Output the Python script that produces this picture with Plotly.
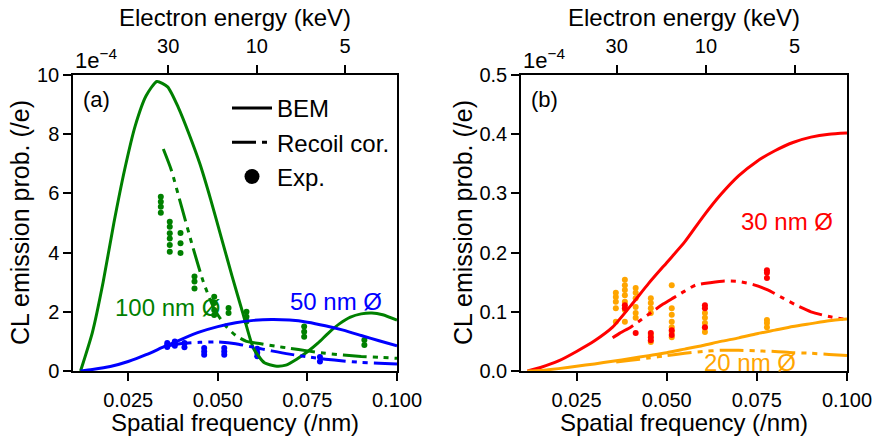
import numpy as np
import plotly.graph_objects as go

# ---------------- data ----------------
# CL emission probability per electron, in units of 1e-4

# (a) 100 nm and 50 nm particles
q_bem100 = [0.0117, 0.015, 0.018, 0.021, 0.024, 0.027, 0.030, 0.033, 0.036, 0.039,
            0.042, 0.045, 0.048, 0.051, 0.054, 0.057, 0.060, 0.063, 0.066, 0.069,
            0.072, 0.075, 0.078, 0.081, 0.084, 0.087, 0.090, 0.093, 0.096, 0.100]
p_bem100 = [0.0, 1.3, 3.0, 5.0, 6.8, 8.3, 9.3, 9.78, 9.6, 8.9,
            8.0, 7.0, 5.8, 4.5, 3.2, 1.95, 0.75, 0.28, 0.17, 0.2,
            0.4, 0.65, 0.95, 1.3, 1.6, 1.82, 1.93, 1.96, 1.9, 1.72]

q_rec100 = [0.0348, 0.037, 0.040, 0.043, 0.046, 0.049, 0.052, 0.055, 0.058, 0.062,
            0.066, 0.070, 0.075, 0.080, 0.085, 0.090, 0.095, 0.100]
p_rec100 = [7.5, 6.8, 5.5, 4.2, 3.0, 2.1, 1.55, 1.2, 1.0, 0.92,
            0.84, 0.77, 0.68, 0.6, 0.54, 0.49, 0.46, 0.43]

q_bem50 = [0.0117, 0.015, 0.020, 0.025, 0.030, 0.035, 0.040, 0.045, 0.050, 0.055,
           0.060, 0.065, 0.070, 0.075, 0.080, 0.085, 0.090, 0.095, 0.100]
p_bem50 = [0.0, 0.05, 0.15, 0.32, 0.55, 0.82, 1.08, 1.32, 1.5, 1.63,
           1.71, 1.74, 1.72, 1.65, 1.53, 1.38, 1.2, 1.02, 0.85]

q_rec50 = [0.036, 0.040, 0.045, 0.050, 0.055, 0.060, 0.065, 0.070, 0.075, 0.080,
           0.085, 0.090, 0.095, 0.100]
p_rec50 = [0.85, 0.93, 0.97, 0.98, 0.92, 0.8, 0.68, 0.57, 0.48, 0.4,
           0.34, 0.29, 0.26, 0.24]

q_exp100 = [0.0341] * 4 + [0.0366] * 6 + [0.0396] * 3 + [0.0435] * 3 + [0.049] * 4 \
    + [0.053] * 2 + [0.058] * 3 + [0.0741] * 3 + [0.0909] * 2
p_exp100 = [5.89, 5.72, 5.55, 5.35,
            5.04, 4.87, 4.65, 4.48, 4.26, 4.03,
            4.66, 4.32, 3.99,
            3.19, 3.02, 2.79,
            2.51, 2.3, 2.06, 1.89,
            2.13, 1.96,
            2.0, 1.83, 1.67,
            1.5, 1.33, 1.16,
            1.05, 0.88]

q_exp50 = [0.0359] * 3 + [0.038] * 3 + [0.0407] * 2 + [0.0462] * 3 + [0.0518] * 3 \
    + [0.061] * 3 + [0.0785] * 2
p_exp50 = [0.95, 0.88, 0.81,
           1.0, 0.92, 0.85,
           0.95, 0.8,
           0.78, 0.66, 0.55,
           0.78, 0.66, 0.55,
           0.75, 0.62, 0.5,
           0.47, 0.32]

# (b) 30 nm and 20 nm particles
q_bem30 = [0.0114, 0.015, 0.020, 0.025, 0.030, 0.035, 0.040, 0.045, 0.050, 0.055,
           0.060, 0.065, 0.070, 0.075, 0.080, 0.085, 0.090, 0.095, 0.100]
p_bem30 = [0.0, 0.006, 0.017, 0.033, 0.051, 0.074, 0.11, 0.148, 0.183, 0.218,
           0.26, 0.298, 0.33, 0.354, 0.372, 0.386, 0.395, 0.4, 0.402]

q_rec30 = [0.035, 0.037, 0.040, 0.043, 0.046, 0.049, 0.052, 0.055, 0.058, 0.062,
           0.066, 0.070, 0.074, 0.078, 0.082, 0.086, 0.090, 0.095, 0.100]
p_rec30 = [0.056, 0.064, 0.074, 0.087, 0.1, 0.113, 0.124, 0.135, 0.145, 0.149,
           0.152, 0.151, 0.146, 0.137, 0.124, 0.111, 0.1, 0.092, 0.087]

q_bem20 = [0.0114, 0.015, 0.020, 0.025, 0.030, 0.035, 0.040, 0.045, 0.050, 0.055,
           0.060, 0.065, 0.070, 0.075, 0.080, 0.085, 0.090, 0.095, 0.100]
p_bem20 = [0.0, 0.001, 0.004, 0.008, 0.012, 0.0165, 0.021, 0.026, 0.031, 0.037,
           0.043, 0.05, 0.056, 0.063, 0.069, 0.075, 0.08, 0.085, 0.088]

q_rec20 = [0.036, 0.040, 0.045, 0.050, 0.055, 0.060, 0.065, 0.070, 0.075, 0.080,
           0.085, 0.090, 0.095, 0.100]
p_rec20 = [0.015, 0.018, 0.022, 0.026, 0.03, 0.033, 0.035, 0.035, 0.034, 0.033,
           0.031, 0.03, 0.028, 0.026]

q_exp20 = [0.0359] * 5 + [0.0384] * 7 + [0.0414] * 6 + [0.0456] * 6 + [0.0514] * 7 \
    + [0.0606] * 5 + [0.0778] * 3
p_exp20 = [0.132, 0.125, 0.117, 0.106, 0.083,
           0.154, 0.145, 0.137, 0.128, 0.117, 0.103, 0.083,
           0.14, 0.132, 0.123, 0.108, 0.098, 0.09,
           0.123, 0.115, 0.106, 0.098, 0.061, 0.049,
           0.145, 0.106, 0.095, 0.083, 0.074, 0.066, 0.057,
           0.098, 0.09, 0.081, 0.073, 0.066,
           0.086, 0.081, 0.074]

q_exp30 = [0.0384] * 2 + [0.0414] + [0.0456] * 3 + [0.0514] * 2 + [0.0606] * 3 + [0.0778] * 3
p_exp30 = [0.111, 0.106,
           0.064,
           0.064, 0.057, 0.052,
           0.069, 0.061,
           0.111, 0.106, 0.074,
           0.17, 0.166, 0.157]

# electron energies marked on the top axis (keV)
energy_ticks = [30, 10, 5]
Q_AT_C = 0.01187  # spatial frequency (/nm) for an electron moving at c


def energy_to_q(e_kev):
    gamma = 1.0 + e_kev / 511.0
    beta = np.sqrt(1.0 - 1.0 / gamma ** 2)
    return Q_AT_C / beta


q_ticks_top = [float(energy_to_q(e)) for e in energy_ticks]

# ---------------- styling ----------------
FONT = "Liberation Sans, Arial, sans-serif"
GREEN, BLUE, RED, ORANGE = "#008000", "#0000ff", "#ff0000", "#ffa500"
RECOIL_DASH = "24px,6px,5px,6px,5px,6px"
LW = 3
XR = [0.0096, 0.1]

W, H = 877, 437


def px(x):
    return x / W


def py(y):
    return 1 - y / H


fig = go.Figure()


def dots(x, y, color, xa, ya):
    fig.add_trace(go.Scatter(x=x, y=y, mode="markers", xaxis=xa, yaxis=ya,
                             marker=dict(color=color, size=6), showlegend=False))


def curve(x, y, color, xa, ya, dash="solid"):
    fig.add_trace(go.Scatter(x=x, y=y, mode="lines", xaxis=xa, yaxis=ya,
                             line=dict(color=color, width=LW, dash=dash,
                                       shape="spline", smoothing=0.6),
                             showlegend=False))


# panel (a)
dots(q_exp100, p_exp100, GREEN, "x", "y")
dots(q_exp50, p_exp50, BLUE, "x", "y")
curve(q_bem100, p_bem100, GREEN, "x", "y")
curve(q_rec100, p_rec100, GREEN, "x", "y", RECOIL_DASH)
curve(q_bem50, p_bem50, BLUE, "x", "y")
curve(q_rec50, p_rec50, BLUE, "x", "y", RECOIL_DASH)

# panel (b)
dots(q_exp20, p_exp20, ORANGE, "x2", "y2")
dots(q_exp30, p_exp30, RED, "x2", "y2")
curve(q_bem30, p_bem30, RED, "x2", "y2")
curve(q_rec30, p_rec30, RED, "x2", "y2", RECOIL_DASH)
curve(q_bem20, p_bem20, ORANGE, "x2", "y2")
curve(q_rec20, p_rec20, ORANGE, "x2", "y2", RECOIL_DASH)

# empty traces so the top (energy) axes get drawn
for xa, ya in [("x3", "y"), ("x4", "y2")]:
    fig.add_trace(go.Scatter(x=q_ticks_top, y=[None] * len(q_ticks_top), mode="lines",
                             xaxis=xa, yaxis=ya, showlegend=False, hoverinfo="skip"))

# legend entries (style keys only)
fig.add_trace(go.Scatter(x=[None], y=[None], mode="lines", name="BEM",
                         line=dict(color="black", width=LW)))
fig.add_trace(go.Scatter(x=[None], y=[None], mode="lines", name="Recoil cor.",
                         line=dict(color="black", width=LW, dash=RECOIL_DASH)))
fig.add_trace(go.Scatter(x=[None], y=[None], mode="markers", name="Exp.",
                         marker=dict(color="black", size=15)))

axis_common = dict(showline=True, linecolor="black", linewidth=1.5, ticks="outside",
                   ticklen=8, tickwidth=1.5, tickcolor="black", showgrid=False,
                   zeroline=False, automargin=False,
                   tickfont=dict(family=FONT, size=20, color="black"))

xdom1 = [px(73), px(397)]
xdom2 = [px(521), px(847)]
ydom = [py(371), py(75)]

bottom_ticks = [0.025, 0.05, 0.075, 0.1]
bottom_text = ["0.025", "0.050", "0.075", "0.100"]

fig.update_layout(
    width=W, height=H, margin=dict(l=0, r=0, t=0, b=0, autoexpand=False),
    paper_bgcolor="white", plot_bgcolor="white",
    font=dict(family=FONT, color="black"),
    xaxis=dict(domain=xdom1, range=XR, anchor="y", tickvals=bottom_ticks,
               ticktext=bottom_text, ticklabelstandoff=2, **axis_common),
    xaxis2=dict(domain=xdom2, range=XR, anchor="y2", tickvals=bottom_ticks,
                ticktext=bottom_text, ticklabelstandoff=2, **axis_common),
    xaxis3=dict(overlaying="x", side="top", anchor="y", range=XR,
                tickvals=q_ticks_top, ticktext=[str(e) for e in energy_ticks],
                ticklabelstandoff=4, **axis_common),
    xaxis4=dict(overlaying="x2", side="top", anchor="y2", range=XR,
                tickvals=q_ticks_top, ticktext=[str(e) for e in energy_ticks],
                ticklabelstandoff=4, **axis_common),
    yaxis=dict(domain=ydom, range=[0, 10], anchor="x", tickvals=[0, 2, 4, 6, 8, 10],
               mirror=True, **axis_common),
    yaxis2=dict(domain=ydom, range=[0, 0.5], anchor="x2",
                tickvals=[0, 0.1, 0.2, 0.3, 0.4, 0.5],
                ticktext=["0.0", "0.1", "0.2", "0.3", "0.4", "0.5"],
                mirror=True, **axis_common),
    legend=dict(x=px(227), y=py(86), xanchor="left", yanchor="top",
                bgcolor="rgba(0,0,0,0)", font=dict(family=FONT, size=24, color="black"),
                itemwidth=40, tracegroupgap=0),
)

ann = []
title_font = dict(family=FONT, size=24, color="black")
for cx in [(73 + 397) / 2, (521 + 847) / 2]:
    ann.append(dict(text="Electron energy (keV)", x=px(cx), y=py(18), xref="paper",
                    yref="paper", showarrow=False, font=title_font,
                    xanchor="center", yanchor="middle"))
    ann.append(dict(text="Spatial frequency (/nm)", x=px(cx), y=py(422), xref="paper",
                    yref="paper", showarrow=False, font=title_font,
                    xanchor="center", yanchor="middle"))
for cx in [20, 463]:
    ann.append(dict(text="CL emission prob. (/e)", x=px(cx), y=py(223), xref="paper",
                    yref="paper", showarrow=False, font=dict(family=FONT, size=25, color="black"),
                    textangle=-90, xanchor="center", yanchor="middle"))
for lx in [73, 521]:
    ann.append(dict(text="1e<sup>−4</sup>", x=px(lx), y=py(75), xref="paper", yref="paper",
                    showarrow=False, font=dict(family=FONT, size=22, color="black"),
                    xanchor="left", yanchor="bottom"))
ann.append(dict(text="(a)", x=px(81), y=py(99), xref="paper", yref="paper", showarrow=False,
                font=dict(family=FONT, size=22, color="black"), xanchor="left", yanchor="middle"))
ann.append(dict(text="(b)", x=px(529), y=py(99), xref="paper", yref="paper", showarrow=False,
                font=dict(family=FONT, size=22, color="black"), xanchor="left", yanchor="middle"))

label_font = 24
ann.append(dict(text="100 nm Ø", x=0.0359, y=2.13, xref="x", yref="y", showarrow=False,
                font=dict(family=FONT, size=label_font, color=GREEN)))
ann.append(dict(text="50 nm Ø", x=0.083, y=2.36, xref="x", yref="y", showarrow=False,
                font=dict(family=FONT, size=label_font, color=BLUE)))
ann.append(dict(text="30 nm Ø", x=0.0833, y=0.253, xref="x2", yref="y2", showarrow=False,
                font=dict(family=FONT, size=label_font, color=RED)))
ann.append(dict(text="20 nm Ø", x=0.073, y=0.015, xref="x2", yref="y2", showarrow=False,
                font=dict(family=FONT, size=label_font, color=ORANGE)))

fig.update_layout(annotations=ann)
fig.write_html("out.html")
